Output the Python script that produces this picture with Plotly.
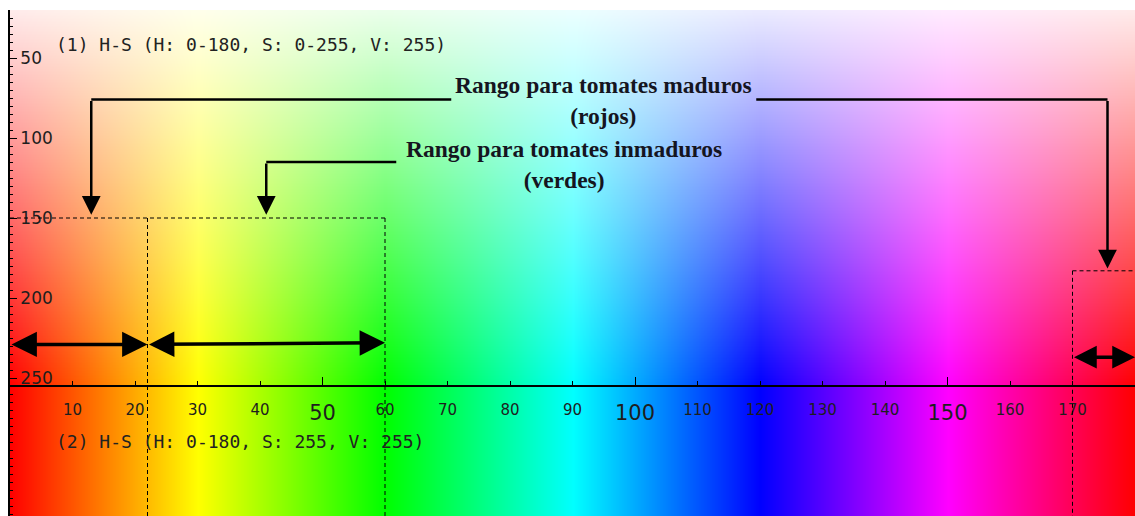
import plotly.graph_objects as go

# ---- colour-space anchors (OpenCV hue 0-180) ----
hue_stops = [0, 30, 60, 90, 120, 150, 180]
hue_colors = ["#ff0000", "#ffff00", "#00ff00", "#00ffff", "#0000ff", "#ff00ff", "#ff0000"]
sat_stops = [0, 255]

# ---- axes ----
h_ticks = [10, 20, 30, 40, 50, 60, 70, 80, 90, 100, 110, 120, 130, 140, 150, 160, 170, 180]
h_major = [50, 100, 150]
s_ticks = [50, 100, 150, 200, 250]
h_range = [0, 180]
s_range = [20, 336.25]
s_max = 255

# ---- tomato ranges ----
ripe_left = [0, 22]
unripe = [22, 60]
ripe_right = [170, 180]
s_thr = 150
s_thr_right = 183
arrow_s_left = 229
arrow_s_unripe = 228
arrow_s_right = 237

ripe_bracket = dict(s=76, h_left=13, h_right=175.6, gap=[70.6, 119.4], tip_left=148, tip_right=181.5)
unripe_bracket = dict(s=115, h_left=41, h_end=61.8, tip=148)

ripe_label = "Rango para tomates maduros<br>(rojos)"
unripe_label = "Rango para tomates inmaduros<br>(verdes)"
label1 = "(1) H-S (H: 0-180, S: 0-255, V: 255)"
label2 = "(2) H-S (H: 0-180, S: 255, V: 255)"

fig = go.Figure()

hue_scale = [[h / 180, c] for h, c in zip(hue_stops, hue_colors)]
fig.add_trace(go.Heatmap(
    x=hue_stops, y=[0, 340], z=[hue_stops, hue_stops],
    colorscale=hue_scale, zmin=0, zmax=180, zsmooth="best",
    showscale=False, hoverinfo="skip"))

fig.add_trace(go.Heatmap(
    x=h_range, y=sat_stops, z=[[sat_stops[0]] * 2, [sat_stops[1]] * 2],
    colorscale=[[0, "rgba(255,255,255,1)"], [1, "rgba(255,255,255,0)"]],
    zmin=0, zmax=255, zsmooth="best", showscale=False, hoverinfo="skip"))

# invisible trace to carry the major-tick overlay axis
fig.add_trace(go.Scatter(x=h_range, y=[s_range[0]] * 2, xaxis="x2", mode="markers",
                         marker=dict(opacity=0), hoverinfo="skip", showlegend=False))

dash = "4px,3px"
def dline(x0, y0, x1, y1):
    fig.add_shape(type="line", xref="x", yref="y", x0=x0, y0=y0, x1=x1, y1=y1,
                  line=dict(color="black", width=1, dash=dash))

dline(ripe_left[0], s_thr, unripe[1], s_thr)
dline(ripe_left[1], s_thr, ripe_left[1], s_range[1])
dline(unripe[1], s_thr, unripe[1], s_range[1])
dline(ripe_right[0], s_thr_right, ripe_right[1], s_thr_right)
dline(ripe_right[0], s_thr_right, ripe_right[0], s_range[1])

def sline(x0, y0, x1, y1):
    fig.add_shape(type="line", xref="x", yref="y", x0=x0, y0=y0, x1=x1, y1=y1,
                  line=dict(color="black", width=2.5))

rb = ripe_bracket
sline(rb["h_left"], rb["s"], rb["gap"][0], rb["s"])
sline(rb["gap"][1], rb["s"], rb["h_right"], rb["s"])
ub = unripe_bracket
sline(ub["h_left"], ub["s"], ub["h_end"], ub["s"])

def arrow(x, y, ax, ay, both=False, w=2.5, size=1.5):
    fig.add_annotation(x=x, y=y, ax=ax, ay=ay, xref="x", yref="y", axref="x", ayref="y",
                       text="", showarrow=True, arrowhead=2, arrowsize=size, arrowwidth=w,
                       arrowcolor="black", arrowside="end+start" if both else "end",
                       startarrowhead=2, startarrowsize=size, standoff=0, startstandoff=0)

arrow(rb["h_left"], rb["tip_left"], rb["h_left"], rb["s"])
arrow(rb["h_right"], rb["tip_right"], rb["h_right"], rb["s"])
arrow(ub["h_left"], ub["tip"], ub["h_left"], ub["s"])

arrow(ripe_left[1], arrow_s_left, ripe_left[0], arrow_s_left, both=True, w=3.5, size=1.45)
arrow(unripe[1], arrow_s_unripe, unripe[0], arrow_s_unripe + 1, both=True, w=3.5, size=1.45)
arrow(ripe_right[1], arrow_s_right, ripe_right[0], arrow_s_right, both=True, w=3.5, size=1.3)

serif = dict(family="Liberation Serif", size=23.5, color="#15151f")
fig.add_annotation(x=sum(rb["gap"]) / 2, y=rb["s"], xref="x", yref="y",
                   text="<b>" + ripe_label.replace("<br>", "</b><br><b>") + "</b>",
                   showarrow=False, font=serif, yanchor="middle", yshift=-1)
fig.add_annotation(x=88.7, y=ub["s"], xref="x", yref="y",
                   text="<b>" + unripe_label.replace("<br>", "</b><br><b>") + "</b>",
                   showarrow=False, font=serif, yanchor="middle", yshift=-2)

mono = dict(family="DejaVu Sans Mono", size=18, color="#222222")
fig.add_annotation(x=7.1, y=41.3, xref="x", yref="y", text=label1, showarrow=False,
                   font=mono, xanchor="left", yanchor="middle")
fig.add_annotation(x=7.1, y=289.4, xref="x", yref="y", text=label2, showarrow=False,
                   font=mono, xanchor="left", yanchor="middle")

minor_ticks = [h for h in h_ticks if h not in h_major]
axis_pos = 130 / 506

fig.update_layout(
    width=1135, height=516,
    margin=dict(l=10, r=0, t=10, b=0),
    paper_bgcolor="white", plot_bgcolor="white",
    showlegend=False,
    xaxis=dict(range=h_range, anchor="free", position=axis_pos, side="bottom",
               showline=True, linecolor="black", linewidth=1.5,
               ticks="inside", ticklen=4, tickwidth=1.2, tickcolor="black",
               tickvals=minor_ticks, ticklabelstandoff=10,
               tickfont=dict(family="DejaVu Sans", size=15, color="#1e1e1e"),
               showgrid=False, zeroline=False),
    xaxis2=dict(range=h_range, overlaying="x", anchor="free", position=axis_pos,
                side="bottom", ticks="inside", ticklen=9, tickwidth=1.2, tickcolor="black",
                tickvals=h_major, ticklabelstandoff=12,
                tickfont=dict(family="DejaVu Sans", size=21, color="#1e1e1e"),
                showgrid=False, zeroline=False, showline=False),
    yaxis=dict(range=[s_range[1], s_range[0]], showline=True, linecolor="black", linewidth=1.5,
               ticks="inside", ticklen=7, tickwidth=1.2, tickcolor="black",
               tickvals=s_ticks, ticklabelposition="inside", ticklabelstandoff=4,
               tickfont=dict(family="DejaVu Sans", size=17, color="#1e1e1e"),
               minor=dict(dtick=5, ticks="inside", ticklen=3, tickcolor="black"),
               showgrid=False, zeroline=False),
)

fig.write_html("out.html", config={"displayModeBar": False},
               post_script="document.body.style.margin='0';document.body.style.overflow='hidden';")
